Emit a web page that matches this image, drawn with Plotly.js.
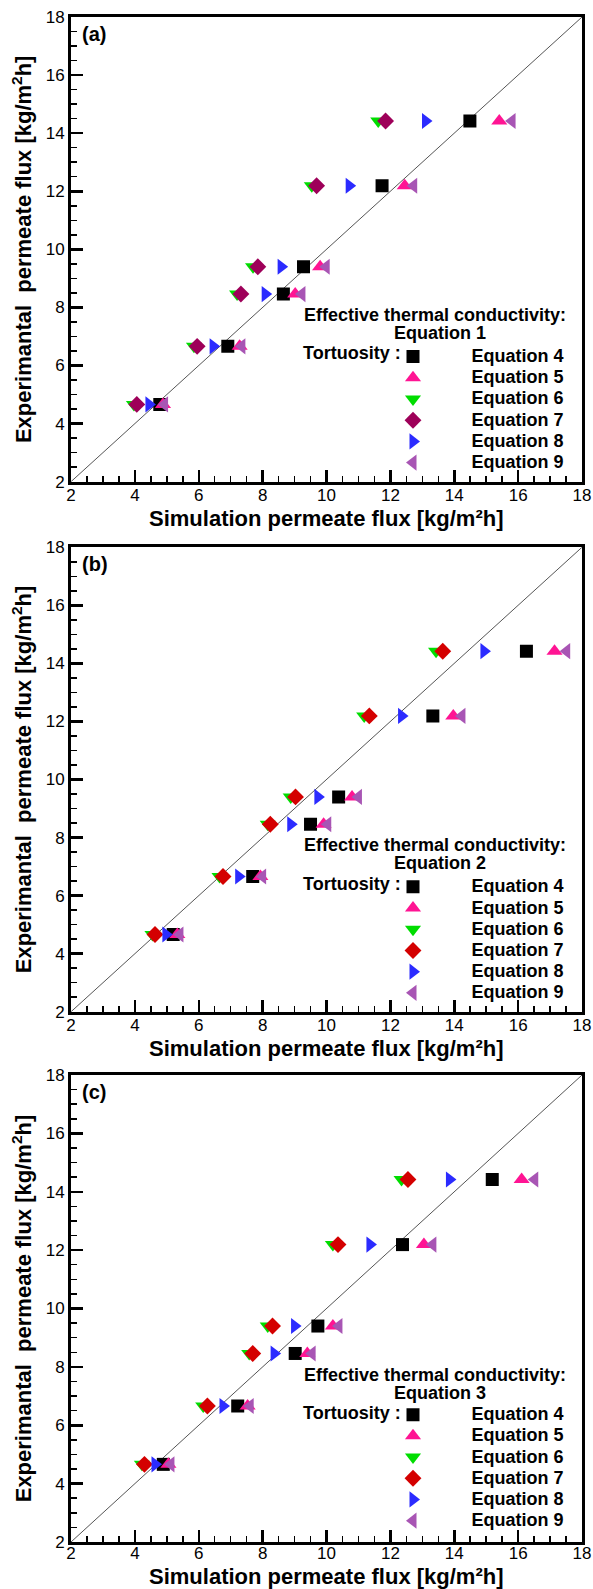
<!DOCTYPE html>
<html><head><meta charset="utf-8">
<script src="https://cdn.plot.ly/plotly-3.0.1.min.js"></script>
<style>html,body{margin:0;padding:0;background:#fff}</style>
</head><body><div id="chart" style="width:593px;height:1589px"></div>
<script>
// Experimental permeate flux (y values, same in all panels)
const expFlux = [4.66, 6.66, 8.46, 9.4, 12.19, 14.42];
const parityLine = [2, 18];
const tortuosityLabels = ['Equation 4', 'Equation 5', 'Equation 6', 'Equation 7', 'Equation 8', 'Equation 9'];
const conductivityLabels = ['Equation 1', 'Equation 2', 'Equation 3'];
const panelLabels = ['(a)', '(b)', '(c)'];
const xTitle = 'Simulation permeate flux [kg/m\u00b2h]';
const yTitle = 'Experimantal\u00a0 permeate flux [kg/m<sup>2</sup>h]';

// Panel (a) – effective thermal conductivity: Equation 1
const simA_eq4 = [4.78, 6.91, 8.65, 9.28, 11.74, 14.49];
const simA_eq5 = [4.88, 7.28, 9.02, 9.80, 12.45, 15.41];
const simA_eq6 = [3.97, 5.85, 7.20, 7.70, 9.54, 11.62];
const simA_eq7 = [4.06, 5.95, 7.32, 7.85, 9.69, 11.85];
const simA_eq8 = [4.44, 6.45, 8.08, 8.58, 10.71, 13.10];
const simA_eq9 = [4.93, 7.35, 9.23, 9.99, 12.73, 15.81];

// Panel (b) – Equation 2
const simB_eq4 = [5.20, 7.69, 9.50, 10.38, 13.33, 16.26];
const simB_eq5 = [5.33, 7.93, 9.91, 10.80, 13.97, 17.14];
const simB_eq6 = [4.55, 6.65, 8.16, 8.88, 11.18, 13.43];
const simB_eq7 = [4.63, 6.76, 8.24, 9.03, 11.34, 13.64];
const simB_eq8 = [4.97, 7.25, 8.88, 9.73, 12.35, 14.93];
const simB_eq9 = [5.41, 8.00, 10.04, 11.00, 14.24, 17.52];

// Panel (c) – Equation 3
const simC_eq4 = [4.89, 7.22, 9.02, 9.73, 12.38, 15.19];
const simC_eq5 = [5.05, 7.53, 9.40, 10.20, 13.05, 16.11];
const simC_eq6 = [4.22, 6.14, 7.58, 8.16, 10.20, 12.35];
const simC_eq7 = [4.30, 6.27, 7.69, 8.31, 10.36, 12.55];
const simC_eq8 = [4.63, 6.76, 8.36, 9.00, 11.36, 13.85];
const simC_eq9 = [5.13, 7.61, 9.55, 10.39, 13.33, 16.52];

const panels = [
  [simA_eq4, simA_eq5, simA_eq6, simA_eq7, simA_eq8, simA_eq9],
  [simB_eq4, simB_eq5, simB_eq6, simB_eq7, simB_eq8, simB_eq9],
  [simC_eq4, simC_eq5, simC_eq6, simC_eq7, simC_eq8, simC_eq9]
];

// ---- styles ----
const FONT = 'Liberation Sans, Arial, sans-serif';
const symbols = ['square', 'triangle-up', 'triangle-down', 'diamond', 'triangle-right', 'triangle-left'];
const sizes = [13, 14, 14, 13, 14, 14];
const colorSets = [
  ['#000000', '#ff1493', '#00dd00', '#9e0059', '#2b2bff', '#a855b4'],
  ['#000000', '#ff1493', '#00dd00', '#d40000', '#2b2bff', '#a855b4'],
  ['#000000', '#ff1493', '#00dd00', '#d40000', '#2b2bff', '#a855b4']
];
const domains = [[0.6953, 1], [0.3477, 0.6523], [0, 0.3062]];
const tickShift = [-4, -4, -6];       // tick-label standoff per panel (px)
const xTitleOffset = [36.5, 36.5, 34.3]; // x-title distance below axis (px)
const W = 593, H = 1589, ML = 71, MR = 11, MT = 17, MB = 47;
const plotH = H - MT - MB, plotW = W - ML - MR;

const traces = [];
const layout = {
  width: W, height: H,
  margin: {l: ML, r: MR, t: MT, b: MB},
  paper_bgcolor: '#fff', plot_bgcolor: '#fff',
  hovermode: false,
  font: {family: FONT, color: '#000'},
  annotations: []
};

panels.forEach((sims, p) => {
  const sfx = p === 0 ? '' : String(p + 1);
  const xa = 'x' + sfx, ya = 'y' + sfx;
  const legName = 'legend' + sfx;
  traces.push({
    x: parityLine, y: parityLine, xaxis: xa, yaxis: ya,
    mode: 'lines', line: {color: '#555', width: 1}, showlegend: false
  });
  sims.forEach((xs, i) => {
    traces.push({
      x: xs, y: expFlux, xaxis: xa, yaxis: ya,
      mode: 'markers', type: 'scatter',
      name: '<span style="font-size:18px">' + tortuosityLabels[i] + '</span>',
      legend: legName,
      marker: {symbol: symbols[i], size: sizes[i], color: colorSets[p][i], line: {width: 0}}
    });
  });

  const axCommon = {
    range: [2, 18], tick0: 2, dtick: 2,
    ticks: 'inside', ticklen: 12, tickwidth: 2.5, tickcolor: '#000',
    minor: {dtick: 0.5, ticks: 'inside', ticklen: 6, tickwidth: 1.5, tickcolor: '#000'},
    showline: true, linewidth: 3, linecolor: '#000', mirror: true,
    showgrid: false, zeroline: false,
    tickfont: {family: FONT, size: 17, color: '#000'}
  };
  layout['xaxis' + sfx] = Object.assign({}, axCommon, {anchor: ya, domain: [0, 1], ticklabelstandoff: tickShift[p]});
  layout['yaxis' + sfx] = Object.assign({}, axCommon, {
    anchor: xa, domain: domains[p],
    title: {text: yTitle, standoff: 8,
            font: {family: FONT, size: 22, weight: 'bold', color: '#000'}}
  });

  // legend placement (paper coords computed from the panel domain)
  const panelTopPx = (1 - domains[p][1]) * plotH;
  const legTopPx = panelTopPx + 324;
  layout[legName] = {
    x: (354.5 - ML) / plotW, xanchor: 'left',
    y: 1 - legTopPx / plotH, yanchor: 'top',
    bgcolor: 'rgba(0,0,0,0)', borderwidth: 0,
    itemwidth: 107, itemclick: false, itemdoubleclick: false,
    font: {family: FONT, size: 14, weight: 'bold', color: '#000'}
  };

  const annBase = {xref: xa + ' domain', yref: ya + ' domain', showarrow: false,
                   font: {family: FONT, size: 18, weight: 'bold', color: '#000'}};
  const panelPx = (domains[p][1] - domains[p][0]) * plotH;
  // x-axis title (placed just below the tick labels)
  layout.annotations.push(Object.assign({}, annBase, {
    x: 0.5, y: -xTitleOffset[p] / panelPx, xanchor: 'center', yanchor: 'middle', borderpad: 0,
    font: {family: FONT, size: 22, weight: 'bold', color: '#000'},
    text: xTitle}));
  layout.annotations.push(Object.assign({}, annBase, {
    x: 0.7133, y: 0.3585, xanchor: 'center', yanchor: 'middle',
    text: 'Effective thermal conductivity:'}));
  layout.annotations.push(Object.assign({}, annBase, {
    x: 0.7221, y: 0.3198, xanchor: 'center', yanchor: 'middle',
    text: conductivityLabels[p]}));
  layout.annotations.push(Object.assign({}, annBase, {
    x: 0.450, y: 0.2761, xanchor: 'left', yanchor: 'middle',
    text: 'Tortuosity :'}));
  layout.annotations.push(Object.assign({}, annBase, {
    x: 0.018, y: 0.9643, xanchor: 'left', yanchor: 'middle',
    font: {family: FONT, size: 20, weight: 'bold', color: '#000'},
    text: panelLabels[p]}));
});

Plotly.newPlot('chart', traces, layout, {displayModeBar: false, staticPlot: true});
</script></body></html>
